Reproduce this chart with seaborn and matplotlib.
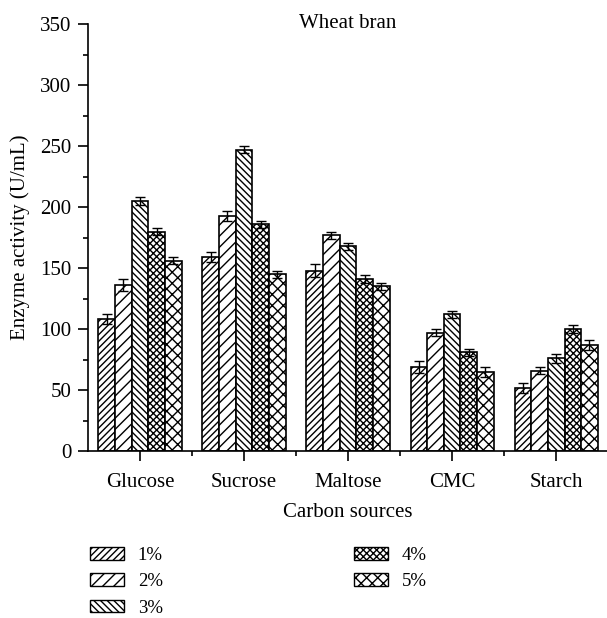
import matplotlib
matplotlib.use("Agg")
import matplotlib.pyplot as plt
from matplotlib.patches import Patch
from matplotlib.ticker import MultipleLocator, FixedLocator
import seaborn as sns
import pandas as pd
import numpy as np

categories = ["Glucose", "Sucrose", "Maltose", "CMC", "Starch"]
concentrations = ["1%", "2%", "3%", "4%", "5%"]
vals_1 = [108, 159, 148, 69, 52]
vals_2 = [136, 193, 177, 97, 66]
vals_3 = [205, 247, 168, 112, 76]
vals_4 = [180, 186, 141, 81, 100]
vals_5 = [156, 145, 135, 65, 87]
err_1 = [4, 4, 5, 5, 4]
err_2 = [5, 4, 3, 3, 3]
err_3 = [3, 3, 3, 3, 4]
err_4 = [3, 3, 3, 3, 3]
err_5 = [3, 3, 3, 4, 4]

values = [vals_1, vals_2, vals_3, vals_4, vals_5]
errors = [err_1, err_2, err_3, err_4, err_5]

rows = []
for c, vs, es in zip(concentrations, values, errors):
    for cat, v, e in zip(categories, vs, es):
        rows.append({"source": cat, "conc": c, "value": v, "err": e})
df = pd.DataFrame(rows)

sns.set_theme(style="ticks")
plt.rcParams["font.family"] = ["Liberation Serif", "DejaVu Serif"]
plt.rcParams["hatch.linewidth"] = 1.0
plt.rcParams["hatch.color"] = "black"
plt.rcParams["text.color"] = "black"
plt.rcParams["axes.labelcolor"] = "black"
plt.rcParams["xtick.color"] = "black"
plt.rcParams["ytick.color"] = "black"

FS = 15
LFS = 13.5

fig = plt.figure(figsize=(6.07, 6.18), dpi=100)
ax = fig.add_axes([0.145, 0.27, 0.857, 0.691])

hatches = ["/////", "///", "\\\\\\\\\\", "xxxxx", "xxx"]
palette = {c: "white" for c in concentrations}

sns.barplot(data=df, x="source", y="value", hue="conc", order=categories,
            hue_order=concentrations, palette=palette, errorbar=None,
            width=0.8, ax=ax, legend=False, saturation=1,
            edgecolor="black", linewidth=1.2)

for cont, h, c in zip(ax.containers, hatches, concentrations):
    sub = df[df.conc == c].set_index("source").loc[categories]
    xs = []
    for bar in cont:
        bar.set_hatch(h)
        bar.set_facecolor("white")
        bar.set_edgecolor("black")
        xs.append(bar.get_x() + bar.get_width() / 2)
    ax.errorbar(xs, sub["value"].values, yerr=sub["err"].values, fmt="none",
                ecolor="black", elinewidth=1.0, capsize=3.3, capthick=1.0, zorder=5)

ax.set_xlim(-0.5, 4.5)
ax.set_ylim(0, 350)
ax.yaxis.set_major_locator(MultipleLocator(50))
ax.yaxis.set_minor_locator(MultipleLocator(25))
ax.xaxis.set_minor_locator(FixedLocator([0.5, 1.5, 2.5, 3.5]))
ax.tick_params(axis="both", which="major", direction="out", length=7, width=1.2,
               labelsize=FS, colors="black")
ax.tick_params(axis="both", which="minor", direction="out", length=3.5, width=1.2,
               colors="black")
ax.tick_params(axis="x", which="major", pad=9)
ax.tick_params(axis="y", which="major", pad=5)
for s in ["top", "right"]:
    ax.spines[s].set_visible(False)
for s in ["left", "bottom"]:
    ax.spines[s].set_linewidth(1.2)
    ax.spines[s].set_color("black")

ax.set_xlabel("Carbon sources", fontsize=FS, labelpad=8, color="black")
ax.set_ylabel("Enzyme activity (U/mL)", fontsize=FS, labelpad=7, color="black")
ax.text(0.5, 0.9906, "Wheat bran", transform=ax.transAxes, ha="center",
        va="baseline", fontsize=FS, color="black")

handles = [Patch(facecolor="white", edgecolor="black", hatch=h, label=c)
           for h, c in zip(hatches, concentrations)]
fig.legend(handles=handles, loc="upper left", bbox_to_anchor=(0.148, 0.115),
           bbox_transform=fig.transFigure, ncol=2, frameon=False, fontsize=LFS,
           handlelength=1.8, handleheight=0.65, handletextpad=0.75,
           columnspacing=10.2, labelspacing=0.5, borderpad=0, borderaxespad=0,
           labelcolor="black")

fig.savefig("out.png", dpi=100)
